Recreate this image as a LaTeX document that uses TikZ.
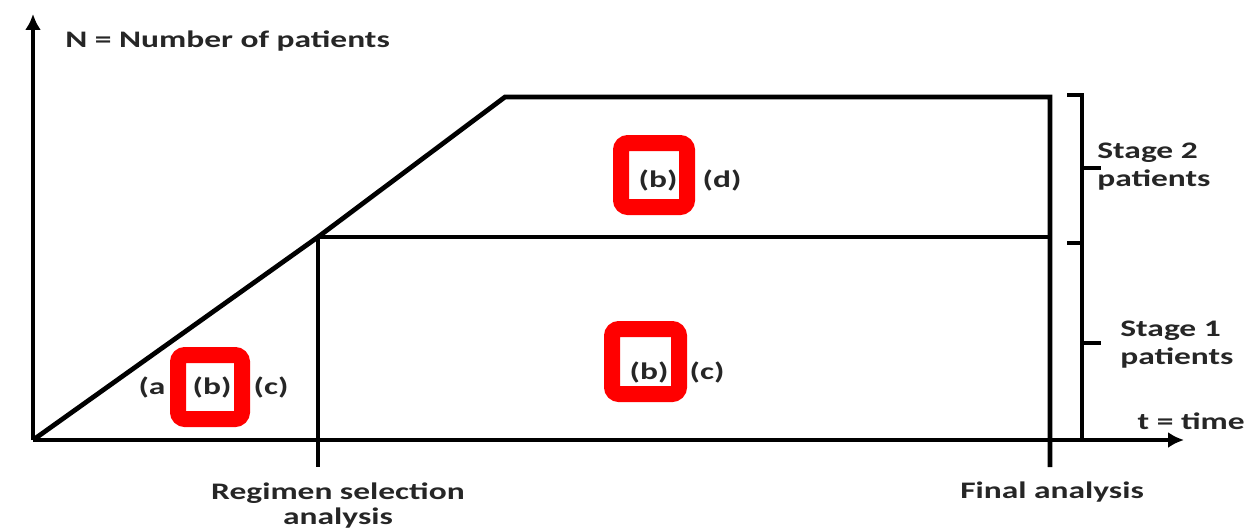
\documentclass[tikz,border=0pt]{standalone}
\usepackage{fontspec}
\setmainfont{Carlito}[FakeStretch=1.41]
\usetikzlibrary{arrows.meta}

\begin{document}
\begin{tikzpicture}[x=0.02cm,y=-0.02cm,
    axis/.style={line width=2.8pt,-{Latex[length=9pt,width=9pt]}},
    curve/.style={line width=2.7pt},
    redbox/.style={draw=red,line width=0.32cm,rounded corners=4pt},
    every node/.style={font=\bfseries\fontsize{13.5}{16}\selectfont,text=black!85,inner sep=0pt}]

      \useasboundingbox (0,0) rectangle (1245,531);

      % corner points of the enrolment outline
      \coordinate (o)    at (33,440);
      \coordinate (ytop) at (33,14);
      \coordinate (xend) at (1184,440);
      \coordinate (sel)  at (318,237);
      \coordinate (plat) at (505,97);
      \coordinate (fin)  at (1050,97);
      \coordinate (finm) at (1050,237);
      \coordinate (finb) at (1050,467);
      \coordinate (selb) at (318,467);

      \begin{scope}
        \draw[axis] (o) -- (ytop);
        \draw[axis] (o) -- (xend);
      \end{scope}

      \begin{scope}[every path/.style={curve}]
        \draw (o) -- (sel) -- (plat) -- (fin) -- (finb);
        \draw (sel) -- (selb);
        \draw (sel) -- (finm);
      \end{scope}

      % brace for the two stages
      \coordinate (btop) at (1082,95);
      \coordinate (bbot) at (1082,440);
      \draw[line width=2.2pt] (1067,95) -- (btop) -- (bbot);
      \draw[line width=2.2pt] (1082,168) -- (1101,168);
      \draw[line width=2.2pt] (1067,243) -- (1082,243);
      \draw[line width=2.2pt] (1082,343) -- (1101,343);

      % labels
      \node[anchor=west] (ylab)  at (65,41)   {N = Number of patients};
      \node[anchor=east] (xlab)  at (1245,421) {t = time};
      \node[anchor=west,align=left] (st2) at (1097,167) {Stage 2\\patients};
      \node[anchor=west,align=left] (st1) at (1120,345) {Stage 1\\patients};
      \node[anchor=north,align=center,font=\bfseries\fontsize{13.5}{14.5}\selectfont] (rsa) at (338,482) {Regimen selection\\analysis};
      \node[anchor=north] (fa) at (1052,482) {Final analysis};

      \node (a1) at (152,387) {(a};
      \node (b1) at (212,387) {(b)};
      \node (c1) at (271,387) {(c)};
      \node (b2) at (658,180) {(b)};
      \node (d2) at (722,180) {(d)};
      \node (b3) at (649,372) {(b)};
      \node (c3) at (707,372) {(c)};

      % red marks drawn on top
      \draw[redbox] (178,355) rectangle (242,419);
      \draw[redbox] (621,143) rectangle (687,207);
      \draw[redbox] (612,329) rectangle (679,394);

    \end{tikzpicture}
\end{document}
